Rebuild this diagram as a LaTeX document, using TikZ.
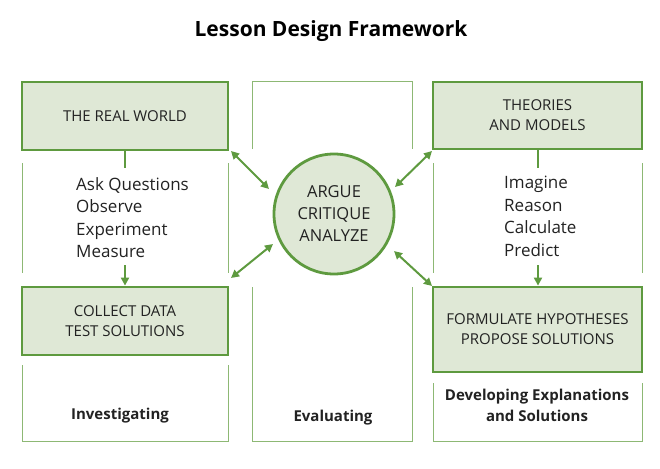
\documentclass[tikz,border=0pt]{standalone}
\usepackage{fontspec}
\setmainfont{Open Sans}
\usetikzlibrary{arrows.meta}
\definecolor{gline}{HTML}{5E9A3F}
\definecolor{gthin}{HTML}{8DB874}
\definecolor{gfill}{HTML}{DFE8D6}
\definecolor{txt}{HTML}{222222}
\tikzset{
  greenbox/.style={draw=gline, line width=2.8pt, fill=gfill, inner sep=0pt, text=txt, font=\fontsize{15}{20}\selectfont, align=center},
  thinline/.style={draw=gthin, line width=1pt},
  dblarrow/.style={draw=gline, line width=2pt, {Triangle[length=8pt,width=8pt]}-{Triangle[length=8pt,width=8pt]}},
  onearrow/.style={draw=gline, line width=2pt, -{Triangle[length=8pt,width=8pt]}},
  plainline/.style={draw=gline, line width=2pt},
  listtext/.style={text=txt, font=\fontsize{17}{22.5}\selectfont, align=left, anchor=north west, inner sep=0pt},
  collabel/.style={text=txt, font=\fontsize{15}{21}\selectfont\bfseries, align=center}
}
\begin{document}
\begin{tikzpicture}[x=1pt,y=-1pt]
\useasboundingbox (0,0) rectangle (660,468);
% title
\node[font=\fontsize{21}{24}\selectfont\bfseries] (title) at (331,31) {Lesson Design Framework};
% column outlines
\draw[thinline] (22,163) -- (22,273) (228,163) -- (228,273);
\draw[thinline] (22,365) -- (22,441) -- (228,441) -- (228,365);
\draw[thinline] (252,149) -- (252,82) -- (412,82) -- (412,149);
\draw[thinline] (252,287) -- (252,441) -- (412,441) -- (412,287);
\draw[thinline] (433,163) -- (433,273) (642,163) -- (642,273);
\draw[thinline] (433,383) -- (433,441) -- (642,441) -- (642,383);
% boxes
\node[greenbox, minimum width=206pt, minimum height=68pt] (rw) at (125,116) {THE REAL WORLD};
\node[greenbox, minimum width=206pt, minimum height=68pt] (cd) at (125,321) {COLLECT DATA\\TEST SOLUTIONS};
\node[greenbox, minimum width=209pt, minimum height=67pt] (tm) at (537.5,115.5) {THEORIES\\AND MODELS};
\node[greenbox, minimum width=209pt, minimum height=85pt] (fh) at (537.5,329.5) {FORMULATE HYPOTHESES\\PROPOSE SOLUTIONS};
\node[draw=gline, line width=2.8pt, fill=gfill, circle, minimum size=120pt, inner sep=0pt, text=txt, font=\fontsize{16.5}{22}\selectfont, align=center] (ac) at (334,214) {ARGUE\\CRITIQUE\\ANALYZE};
% lists
\node[listtext] (l1) at (76,177) {Ask Questions\\Observe\\Experiment\\Measure};
\node[listtext] (l2) at (504,176) {Imagine\\Reason\\Calculate\\Predict};
\coordinate (l1top) at (125,168);
\coordinate (l1bot) at (125,265);
\coordinate (l2top) at (538,168);
\coordinate (l2bot) at (538,265);
\draw[plainline] (rw.south) -- (l1top);
\draw[onearrow] (l1bot) -- (cd.north);
\draw[plainline] (tm.south -| l2top) -- (l2top);
\draw[onearrow] (l2bot) -- (fh.north -| l2bot);
% double arrows
\coordinate (a1) at (231,151);
\coordinate (b1) at (269,189);
\coordinate (a2) at (231,278);
\coordinate (b2) at (273,244);
\coordinate (a3) at (432,151);
\coordinate (b3) at (395,187);
\coordinate (a4) at (432,286);
\coordinate (b4) at (394,251);
\draw[dblarrow] (a1) -- (b1);
\draw[dblarrow] (a2) -- (b2);
\draw[dblarrow] (a3) -- (b3);
\draw[dblarrow] (a4) -- (b4);
% labels
\node[collabel] (inv) at (120,416) {Investigating};
\node[collabel] (eva) at (333,418) {Evaluating};
\node[collabel] (dev) at (537,405) {Developing Explanations\\and Solutions};
\end{tikzpicture}
\end{document}
